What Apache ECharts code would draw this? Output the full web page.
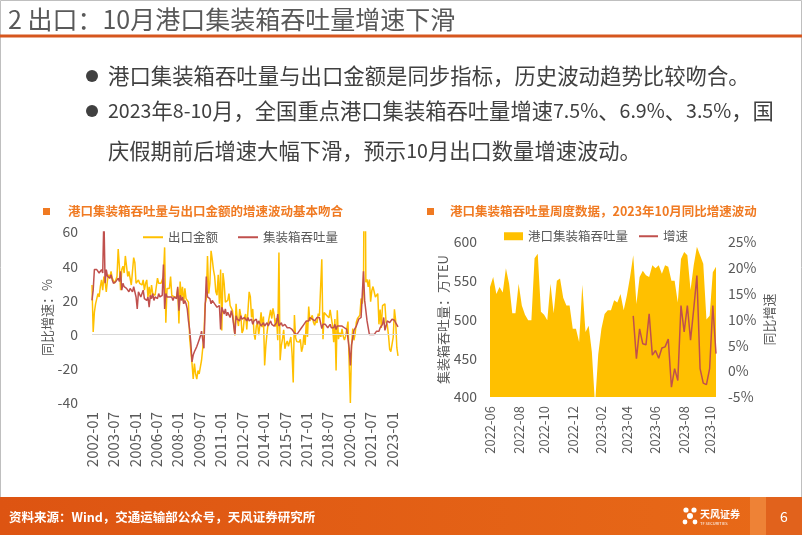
<!DOCTYPE html>
<html><head><meta charset="utf-8">
<script src="https://cdn.jsdelivr.net/npm/echarts@6/dist/echarts.min.js"></script>
<style>html,body{margin:0;padding:0;background:#fff}#c{width:802px;height:535px}</style>
</head><body><div id="c"></div>
<script>
const FONT = '"Noto Sans CJK SC","Noto Sans",sans-serif';

// ---------- Chart 1: monthly YoY growth, 2002-01 .. 2023-06 ----------
const monthStart = [2002, 1];
const exportGrowth = [
  29, 1.5, 13, 18, 17, 24, 22, 28, 32, 26, 34, 31,
  25, 32, 35, 33, 37, 33, 32, 30, 30, 34, 50, 40,
  26, 38, 40, 36, 46, 40, 34, 37, 33, 29, 37, 45,
  42, 30, 30, 32, 30, 30, 29, 32, 26, 30, 32, 22,
  28, 22, 29, 24, 25, 23, 23, 33, 30, 30, 30, 29,
  34, 51, 7, 27, 28, 27, 34, 23, 23, 22, 23, 22,
  27, 6.5, 31, 22, 28, 18, 27, 21, 22, 19, -2, -3,
  -17, -26, -17, -23, -26, -21, -23, -23, -15, -14, -1, 18,
  21, 46, 24, 30, 49, 44, 38, 34, 25, 23, 35, 18,
  38, 2.4, 36, 30, 19, 18, 20, 24, 17, 16, 14, 13,
  -0.5, 18, 9, 5, 15, 11, 1, 2.7, 10, 12, 3, 14,
  25, 22, 10, 15, 1, -3, 5, 7, -0.3, 5.6, 13, 4.3,
  10.6, -18, -6.6, 0.9, 7, 7.2, 14.5, 9.4, 15.3, 11.6, 4.7, 9.7,
  -3.3, 48, -15, -6.4, -2.5, 2.8, -8.3, -5.5, -3.7, -6.9, -6.8, -1.4,
  -11, -28, 11.5, -1.8, -4.1, -4.8, -4.4, -2.8, -10, -7.3, 0.1, -6.1,
  7.9, -1.3, 16.4, 8, 8.7, 11.3, 7.2, 5.5, 8.1, 6.9, 12.3, 10.9,
  11.1, 44, -2.7, 12.9, 12.6, 11.3, 12.2, 9.8, 14.5, 15.6, 5.4, -4.4,
  9.1, -21, 14.2, -2.7, 1.1, -1.3, 3.3, -1, -3.2, -0.9, -1.1, 7.6,
  -17, -40, -6.6, 3.5, -3.3, 0.5, 7.2, 9.5, 9.9, 11.4, 21.1, 18.1,
  25, 155, 30.6, 32.3, 27.9, 32.2, 19.3, 25.6, 28.1, 27.1, 22, 20.9,
  24, 6, 14.7, 3.9, 16.9, 17.9, 18, 7.1, 5.7, -0.3, -8.7, -9.9,
  -10.5, -1.3, 14.8, 8.5, -7.5, -12.4
];
const portGrowth = [
  20, 26, 38, 37, 38, 37, 36, 37, 38, 36, 70, 30,
  38, 34, 35, 33, 35, 32, 30, 29, 31, 30, 33, 31,
  37, 26, 30, 28, 29, 27, 28, 25, 27, 26, 25, 28,
  27, 22, 15, 25, 24, 22, 24, 26, 21, 22, 20, 22,
  16, 23, 21, 24, 20, 22, 23, 21, 24, 22, 21, 23,
  41, 15, 24, 22, 21, 22, 23, 22, 20, 22, 21, 21,
  28, 14, 23, 20, 22, 18, 20, 18, 15, 8, 3, -5,
  -16, -12, -10, -9, -7, -5, -3, -1, 2, 3, -8, 15,
  34, 22, 23, 21, 18, 20, 19, 18, 17, 16, 15, 17,
  3, 16, 14, 12, 15, 11, 13, 12, 10, 14, 11, 12,
  0, 11, 9, 10, 8, 11, 9, 8, 10, 9, 8, 10,
  8, 7, 9, 6, 8, 7, 9, 6, 8, 7, 5, 6,
  7, 5, 6, 7, 5, 6, 8, 6, 7, 5, 6, 7,
  12, 5, 6, 7, 5, 6, 6, 5, 4, 5, 4, 3,
  3, 2, 1, 2, 0, 0, 2, 3, 4, 5, 6, 7,
  8, 9, 8, 10, 9, 9, 10, 8, 9, 10, 9, 10,
  9, 3.5, 6, 5, 6, 5, 4, 5, 6, 4, 5, 4,
  6, 3, 5, 4, 5, 4, 5, 6, 4, 5, 3, 2.5,
  -8, -18, -6, -2, 2.5, 3, 5, 7, 9, 8, 10, 11,
  37, 20, 14, 8, 4, 0, -0.5, 0, 1, 0, 1, 2,
  3, 2, 4, 3, 6, 10, 2.5, 5, 8, 9, 7, 8,
  9, 8, 8.4, 7, 6, 4.5
];
const xTicks1 = ['2002-01','2003-07','2005-01','2006-07','2008-01','2009-07','2011-01',
  '2012-07','2014-01','2015-07','2017-01','2018-07','2020-01','2021-07','2023-01'];

// ---------- Chart 2: weekly port container throughput (万TEU) & YoY (%) ----------
const weekStart = '2022-06-05';
const weeklyThroughput = [
  542, 555, 533, 542, 535, 566, 546, 508, 508, 546,
  518, 506, 499, 499, 579, 585, 510, 506, 499, 546,
  508, 550, 553, 528, 518, 518, 488, 488, 471, 545,
  484, 492, 458, 390, 455, 488, 507, 512, 512, 525,
  522, 533, 512, 531, 555, 583, 520, 555, 563, 557,
  555, 570, 566, 570, 559, 570, 568, 550, 550, 522,
  578, 587, 583, 538, 570, 594, 583, 572, 500, 505,
  561, 568
];
const growthStart = '2023-04-16';
const weeklyGrowth = [
  10.7, 2.4, 8.2, 5.3, 5.1, 11.1, 3.1, 4.0, 2.5, 4.5,
  4.7, 6.2, -3.1, 0.5, -1.8, 12.7, 7.6, 12.7, 6.0, 12.0,
  18.5, 0.5, -2.3, -2.6, 0.5, 12.7, 3.4
];
const xTicks2 = ['2022-06','2022-08','2022-10','2022-12','2023-02','2023-04','2023-06','2023-08','2023-10'];

// ---------- categories ----------
const months = exportGrowth.map((_, i) => {
  const t = (monthStart[0] * 12 + monthStart[1] - 1) + i;
  const y = Math.floor(t / 12), m = t % 12 + 1;
  return y + '-' + String(m).padStart(2, '0');
});
const w0 = Date.parse(weekStart + 'T00:00:00Z');
const weeks = weeklyThroughput.map((_, i) => new Date(w0 + i * 7 * 864e5).toISOString().slice(0, 10));
const gIdx = weeks.indexOf(growthStart);
const growthData = weeklyGrowth.map((v, i) => [weeks[gIdx + i], v]);
function weekTick(idx) {
  const ym = weeks[idx].slice(0, 7);
  const prev = idx > 0 ? weeks[idx - 1].slice(0, 7) : null;
  return ym !== prev && xTicks2.includes(ym);
}

const GREY = '#595959', YEL = '#FFC000', RED = '#C0504D', ORG = '#F07A22', BODY = '#404040';
const bulletRich = {n: {font: '19.6px ' + FONT, fill: BODY}};
function txt(x, y, text, font, fill, extra) {
  return Object.assign({type: 'text', x: x, y: y, style: Object.assign({text: text, font: font, fill: fill,
    textVerticalAlign: 'middle', verticalAlign: 'middle'}, extra || {})});
}

const chart = echarts.init(document.getElementById('c'), null, {renderer: 'canvas'});
const option = {
  animation: false,
  backgroundColor: '#fff',
  textStyle: {fontFamily: FONT},
  graphic: {elements: [
    {type: 'rect', shape: {x: 0.5, y: 0.5, width: 801, height: 534}, style: {fill: 'none', stroke: '#BFBFBF', lineWidth: 1}},
    txt(8, 19, '2 出口：10月港口集装箱吞吐量增速下滑', '25px ' + FONT, GREY),
    {type: 'rect', shape: {x: 0, y: 34.5, width: 802, height: 3}, style: {fill: '#D6561E'}},
    {type: 'circle', shape: {cx: 92, cy: 76, r: 6}, style: {fill: BODY}},
    txt(108, 76, '港口集装箱吞吐量与出口金额是同步指标，历史波动趋势比较吻合。', '21.4px ' + FONT, BODY),
    {type: 'circle', shape: {cx: 92, cy: 111, r: 6}, style: {fill: BODY}},
    txt(108, 111, '{n|2023}年{n|8-10}月，全国重点港口集装箱吞吐量增速{n|7.5%}、{n|6.9%}、{n|3.5%}，国', '21.3px ' + FONT, BODY, {rich: bulletRich}),
    txt(108, 151, '庆假期前后增速大幅下滑，预示{n|10}月出口数量增速波动。', '21.3px ' + FONT, BODY, {rich: bulletRich}),
    {type: 'rect', shape: {x: 43, y: 208, width: 7, height: 7}, style: {fill: ORG}},
    txt(68, 211.5, '港口集装箱吞吐量与出口金额的增速波动基本吻合', 'bold 12.5px ' + FONT, ORG),
    {type: 'rect', shape: {x: 427, y: 208, width: 7, height: 7}, style: {fill: ORG}},
    txt(450, 211.5, '港口集装箱吞吐量周度数据，2023年10月同比增速波动', 'bold 12.5px ' + FONT, ORG),
    {type: 'rect', shape: {x: 0, y: 497, width: 802, height: 38}, style: {fill: new echarts.graphic.LinearGradient(0, 0, 1, 0, [{offset: 0, color: '#DD5412'}, {offset: 1, color: '#E86A18'}])}},
    {type: 'rect', shape: {x: 750, y: 497, width: 16, height: 38}, style: {fill: '#EE8236'}},
    {type: 'rect', shape: {x: 766, y: 497, width: 36, height: 38}, style: {fill: '#E1621C'}},
    txt(9, 517, '资料来源：Wind，交通运输部公众号，天风证券研究所', 'bold 12.5px ' + FONT, '#fff'),
    {type: 'circle', shape: {cx: 686, cy: 510, r: 2.6}, style: {fill: '#fff'}},
    {type: 'circle', shape: {cx: 694, cy: 510, r: 2.6}, style: {fill: '#fff'}},
    {type: 'circle', shape: {cx: 690, cy: 516, r: 3}, style: {fill: '#fff'}},
    {type: 'circle', shape: {cx: 685, cy: 522, r: 2.4}, style: {fill: '#fff'}},
    {type: 'circle', shape: {cx: 695, cy: 522, r: 2.4}, style: {fill: '#fff'}},
    txt(700, 514, '天风证券', 'bold 10px ' + FONT, '#fff'),
    txt(700, 523, 'TF SECURITIES', '4px ' + FONT, '#fff'),
    txt(780, 517, '6', '14px ' + FONT, '#fff')
  ]},
  legend: [
    {left: 143, top: 231, padding: 0, itemWidth: 20, itemHeight: 2, itemGap: 20, icon: 'rect',
     textStyle: {fontSize: 12.5, color: GREY, fontFamily: FONT}, data: ['出口金额', '集装箱吞吐量']},
    {left: 504, top: 230, padding: 0, itemWidth: 19, itemHeight: 8, icon: 'rect',
     textStyle: {fontSize: 12.5, color: GREY, fontFamily: FONT}, data: ['港口集装箱吞吐量']},
    {left: 639, top: 230, padding: 0, itemWidth: 19, itemHeight: 2, icon: 'rect',
     textStyle: {fontSize: 12.5, color: GREY, fontFamily: FONT}, data: ['增速']}
  ],
  grid: [
    {left: 92, top: 232, width: 306, height: 171},
    {left: 490, top: 242, width: 226, height: 155}
  ],
  xAxis: [
    {gridIndex: 0, type: 'category', data: months, boundaryGap: false,
     axisLine: {show: false}, axisTick: {show: false},
     axisLabel: {interval: (i, v) => xTicks1.includes(v), rotate: 90, margin: 9, fontSize: 15, color: GREY, fontFamily: FONT}},
    {gridIndex: 1, type: 'category', data: weeks, boundaryGap: false,
     axisLine: {show: false}, axisTick: {show: false},
     axisLabel: {interval: (i) => weekTick(i), formatter: v => v.slice(0, 7), rotate: 90, margin: 9, fontSize: 13, color: GREY, fontFamily: FONT}}
  ],
  yAxis: [
    {gridIndex: 0, type: 'value', min: -40, max: 60, interval: 20,
     splitLine: {show: false}, axisLine: {show: false}, axisTick: {show: false},
     axisLabel: {fontSize: 14, color: GREY, margin: 14, fontFamily: FONT},
     name: '同比增速：%', nameLocation: 'middle', nameRotate: 90, nameGap: 36,
     nameTextStyle: {fontSize: 13, color: GREY, fontFamily: FONT}},
    {gridIndex: 1, type: 'value', min: 400, max: 600, interval: 50,
     splitLine: {show: false}, axisLine: {show: false}, axisTick: {show: false},
     axisLabel: {fontSize: 14, color: GREY, margin: 13, fontFamily: FONT},
     name: '集装箱吞吐量：万TEU', nameLocation: 'middle', nameRotate: 90, nameGap: 40,
     nameTextStyle: {fontSize: 13, color: GREY, fontFamily: FONT}},
    {gridIndex: 1, type: 'value', position: 'right', min: -5, max: 25, interval: 5,
     splitLine: {show: false}, axisLine: {show: false}, axisTick: {show: false},
     axisLabel: {fontSize: 14, color: GREY, margin: 12, formatter: '{value}%', fontFamily: FONT},
     name: '同比增速', nameLocation: 'middle', nameRotate: 90, nameGap: 47,
     nameTextStyle: {fontSize: 13, color: GREY, fontFamily: FONT}}
  ],
  series: [
    {name: '出口金额', type: 'line', xAxisIndex: 0, yAxisIndex: 0, data: exportGrowth,
     symbol: 'none', clip: true, color: YEL, lineStyle: {color: YEL, width: 1.5},
     markLine: {silent: true, symbol: 'none', label: {show: false},
       lineStyle: {color: '#D9D9D9', width: 1, type: 'solid'}, data: [{yAxis: 0}]}},
    {name: '集装箱吞吐量', type: 'line', xAxisIndex: 0, yAxisIndex: 0, data: portGrowth,
     symbol: 'none', clip: true, color: RED, lineStyle: {color: RED, width: 1.5}},
    {name: '港口集装箱吞吐量', type: 'line', xAxisIndex: 1, yAxisIndex: 1, data: weeklyThroughput,
     symbol: 'none', clip: true, color: YEL, lineStyle: {width: 0}, areaStyle: {color: YEL, opacity: 1, origin: 'start'}},
    {name: '增速', type: 'line', xAxisIndex: 1, yAxisIndex: 2, data: growthData,
     symbol: 'none', clip: true, color: RED, lineStyle: {color: RED, width: 1.5}}
  ]
};
chart.setOption(option);
</script></body></html>
